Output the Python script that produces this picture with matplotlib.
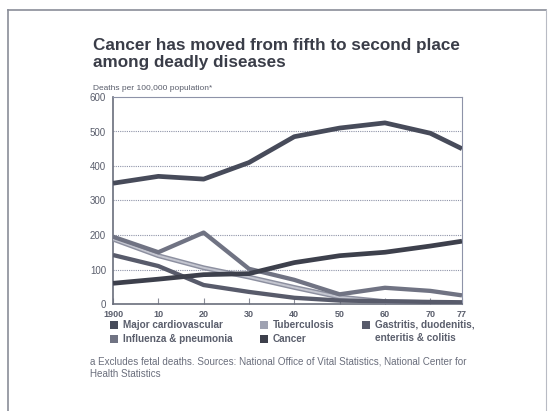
import matplotlib
matplotlib.use("Agg")
import matplotlib.pyplot as plt
from matplotlib.patches import Rectangle
from matplotlib.lines import Line2D

plt.rcParams['font.family'] = ['Liberation Sans', 'DejaVu Sans']

years = [1900, 1910, 1920, 1930, 1940, 1950, 1960, 1970, 1977]
cardio = [350, 370, 362, 410, 485, 510, 525, 495, 450]
cancer = [60, 72, 85, 88, 120, 140, 150, 168, 182]
flu = [195, 150, 207, 102, 70, 28, 47, 38, 25]
tb = [188, 140, 105, 78, 48, 20, 7, 4, 2]
gastro = [142, 110, 55, 35, 18, 10, 8, 6, 5]

x_ticks = [1900, 1910, 1920, 1930, 1940, 1950, 1960, 1970, 1977]
x_labels = ['1900', '10', '20', '30', '40', '50', '60', '70', '77']
y_ticks = [0, 100, 200, 300, 400, 500, 600]

c_cardio = '#474b5a'
c_cancer = '#3d404c'
c_flu = '#707383'
c_tb = '#9fa2b2'
c_gastro = '#585b6b'
txt = '#5a5e6c'

fig = plt.figure(figsize=(5.52, 4.11), dpi=100)
fig.patch.set_facecolor('white')

# outer frame
fig.add_artist(Line2D([8/552, 8/552], [0, 1 - 10/411], color='#8a8d98', lw=1.2))
fig.add_artist(Line2D([8/552, 546/552], [1 - 10/411, 1 - 10/411], color='#8a8d98', lw=1.2))
fig.add_artist(Line2D([546/552, 546/552], [0, 1 - 10/411], color='#b8bbc4', lw=0.8))

ax = fig.add_axes([113/552, 1 - 304/411, (462 - 113)/552, (304 - 97)/411])

ax.plot(years, cardio, color=c_cardio, lw=3.4, solid_capstyle='butt', zorder=5)
ax.plot(years, cancer, color=c_cancer, lw=3.4, solid_capstyle='butt', zorder=5)
ax.plot(years, gastro, color=c_gastro, lw=3.1, solid_capstyle='butt', zorder=4)
ax.plot(years, tb, color='#8d90a0', lw=3.5, solid_capstyle='butt', zorder=3)
ax.plot(years, tb, color='#c4c6d0', lw=1.4, solid_capstyle='butt', zorder=3)
ax.plot(years, flu, color=c_flu, lw=3.1, solid_capstyle='butt', zorder=4)

ax.set_xlim(1900, 1977)
ax.set_ylim(0, 600)
ax.set_xticks(x_ticks)
ax.set_xticklabels(x_labels, fontsize=6.5, fontweight='bold', color=txt)
ax.set_yticks(y_ticks)
ax.set_yticklabels([str(v) for v in y_ticks], fontsize=7, color=txt)
ax.tick_params(axis='x', direction='in', length=4, color='#8a8d98', pad=4)
ax.tick_params(axis='y', length=0, pad=5)

for v in y_ticks[1:-1]:
    ax.axhline(v, color='#8e93a8', lw=0.8, ls=(0, (1, 1)), zorder=1)

for s in ['left', 'bottom']:
    ax.spines[s].set_color('#6a6e7c')
    ax.spines[s].set_linewidth(1.2)
for s in ['top', 'right']:
    ax.spines[s].set_color('#8e93a8')
    ax.spines[s].set_linewidth(0.8)
    ax.spines[s].set_linestyle((0, (1, 1)))

# title and axis note
fig.text(93/552, 1 - 54/411, 'Cancer has moved from fifth to second place\namong deadly diseases',
         fontsize=12.3, fontweight='bold', color='#3a3d48', va='center', ha='left',
         linespacing=1.2)
fig.text(93/552, 1 - 88/411, 'Deaths per 100,000 population*', fontsize=6.0, color=txt,
         va='center', ha='left')

# legend
legend_items = [
    (110, 325, c_cardio, 'Major cardiovascular'),
    (110, 339, c_flu, 'Influenza & pneumonia'),
    (260, 325, c_tb, 'Tuberculosis'),
    (260, 339, c_cancer, 'Cancer'),
    (362, 325, c_gastro, 'Gastritis, duodenitis,\nenteritis & colitis'),
]
for lx, ly, col, label in legend_items:
    fig.add_artist(Rectangle((lx/552, 1 - (ly + 4)/411), 8/552, 8/411,
                             transform=fig.transFigure, facecolor=col, edgecolor='none'))
    fig.text((lx + 13)/552, 1 - (ly - 5.5)/411, label, fontsize=7.2, fontweight='bold',
             color=txt, va='top', ha='left', linespacing=1.45)

# footnote
fig.text(90/552, 1 - 368/411,
         'a Excludes fetal deaths. Sources: National Office of Vital Statistics, National Center for\nHealth Statistics',
         fontsize=7.1, color='#6a6e7c', va='center', ha='left', linespacing=1.3)

fig.savefig('out.png', dpi=100, facecolor='white')
